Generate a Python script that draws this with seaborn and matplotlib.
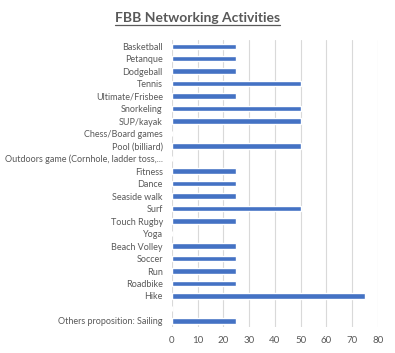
import pandas as pd
import matplotlib.pyplot as plt
import seaborn as sns

activities = [
    "Basketball", "Petanque", "Dodgeball", "Tennis", "Ultimate/Frisbee",
    "Snorkeling", "SUP/kayak", "Chess/Board games", "Pool (billiard)",
    "Outdoors game (Cornhole, ladder toss,...", "Fitness", "Dance",
    "Seaside walk", "Surf", "Touch Rugby", "Yoga", "Beach Volley", "Soccer",
    "Run", "Roadbike", "Hike", " ", "Others proposition: Sailing",
]
percent = [25, 25, 25, 50, 25, 50, 50, 0, 50, 0, 25, 25, 25, 50, 25, 0,
           25, 25, 25, 25, 75, 0, 25]
x_ticks = [0, 10, 20, 30, 40, 50, 60, 70, 80]

df = pd.DataFrame({"activity": activities, "percent": percent})

sns.set_style("white")
plt.rcParams["font.family"] = ["Lato", "DejaVu Sans"]

fig = plt.figure(figsize=(3.95, 3.53), dpi=100)
ax = fig.add_axes([0.435, 0.073, 0.522, 0.814])

sns.barplot(data=df, x="percent", y="activity", orient="h",
            color="#4472C4", saturation=1, width=0.42, ax=ax)

ax.set_xlim(0, 80)
ax.set_xticks(x_ticks)
ax.set_ylim(len(activities) - 0.5, -0.5)
ax.grid(axis="x", color="#D9D9D9", linewidth=0.8)
ax.set_axisbelow(True)
for s in ax.spines.values():
    s.set_visible(False)
ax.set_xlabel("")
ax.set_ylabel("")
ax.tick_params(axis="both", length=0, labelsize=6.5, colors="#595959")
ax.tick_params(axis="y", pad=6.5)
ax.tick_params(axis="x", pad=6, labelsize=7)

fig.text(0.5, 0.949, "FBB Networking Activities", ha="center", va="center",
         fontsize=10, fontweight="bold", color="#595959")
# underline for the title
fig.canvas.draw()
t = fig.texts[0]
bb = t.get_window_extent().transformed(fig.transFigure.inverted())
fig.add_artist(plt.Line2D([bb.x0, bb.x1], [bb.y0 - 0.004, bb.y0 - 0.004],
                          color="#595959", linewidth=0.9,
                          transform=fig.transFigure))

fig.savefig("out.png", dpi=100)
